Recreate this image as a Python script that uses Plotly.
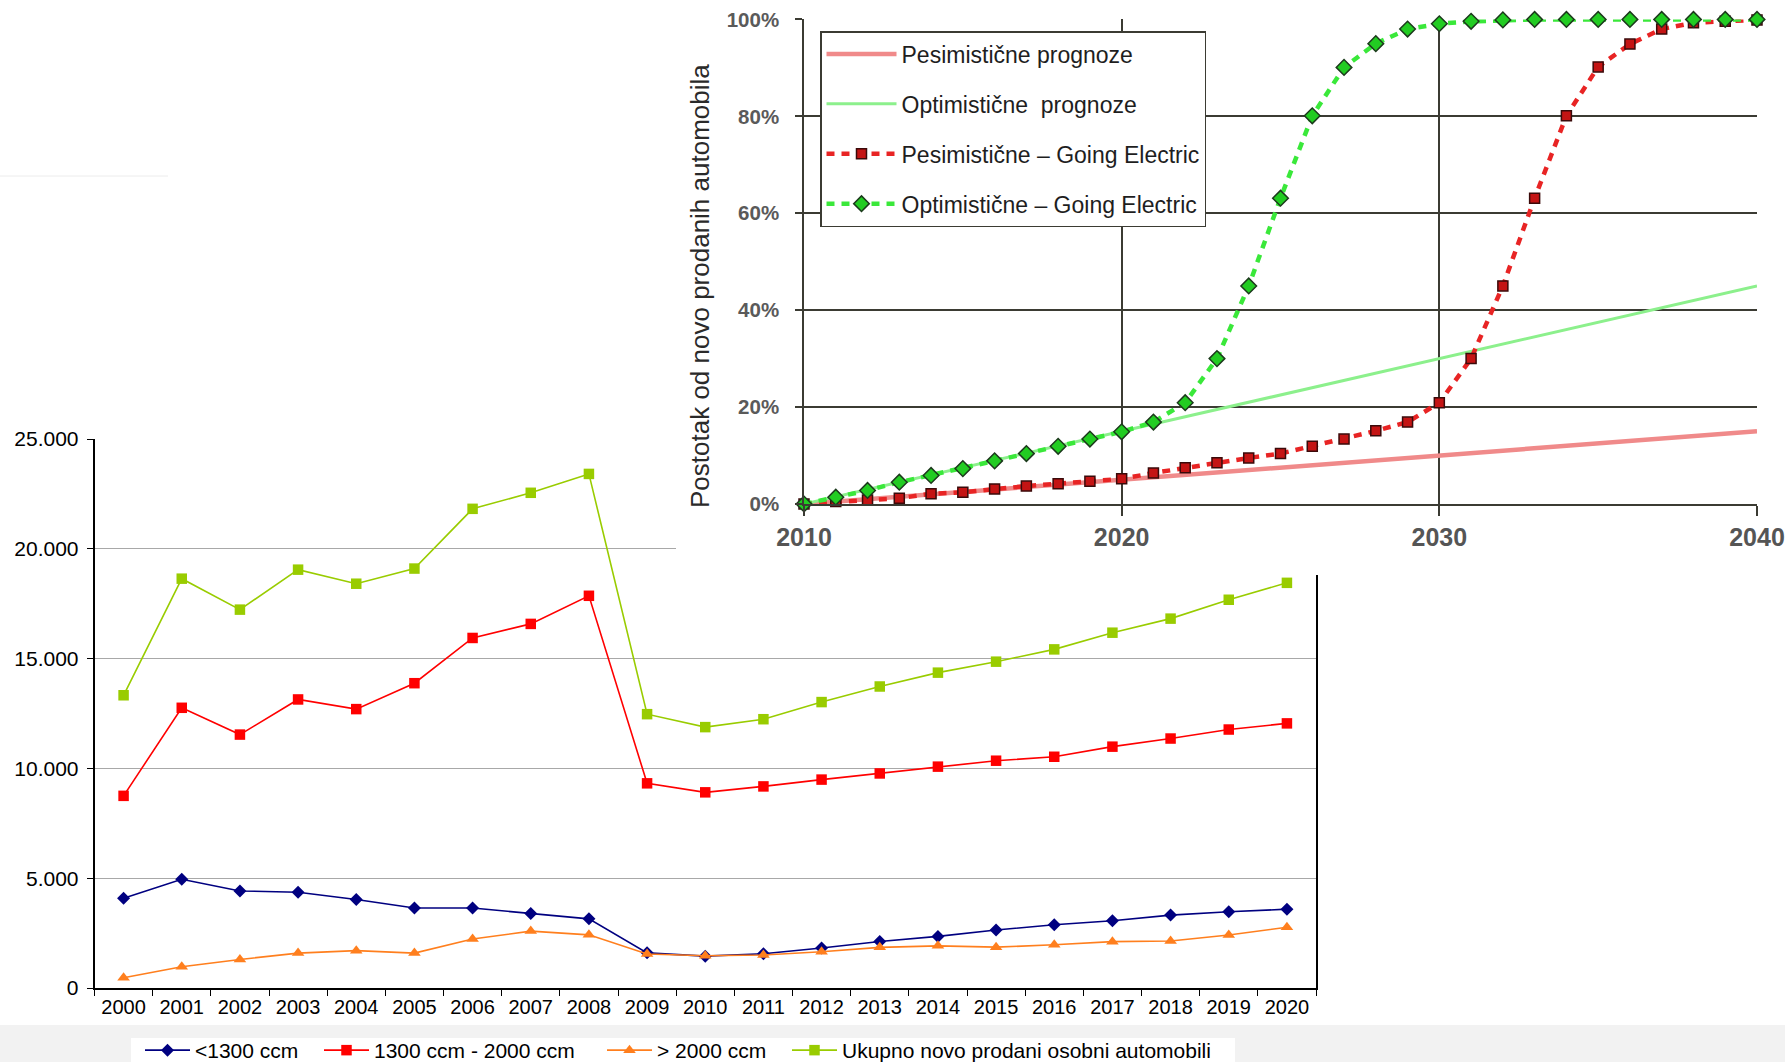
import plotly.graph_objects as go

# ---- Lower chart: new passenger cars sold per year, by engine size ----
years = ["2000", "2001", "2002", "2003", "2004", "2005", "2006", "2007", "2008", "2009", "2010",
         "2011", "2012", "2013", "2014", "2015", "2016", "2017", "2018", "2019", "2020"]
under_1300 = [4090, 4950, 4420, 4360, 4030, 3640, 3640, 3390, 3150, 1600, 1450,
              1560, 1820, 2120, 2350, 2640, 2880, 3060, 3320, 3470, 3590]
from_1300_to_2000 = [8750, 12760, 11540, 13140, 12700, 13880, 15940, 16580, 17860, 9320, 8910,
                     9180, 9490, 9770, 10080, 10350, 10530, 10990, 11360, 11770, 12050]
over_2000 = [470, 970, 1300, 1590, 1700, 1590, 2230, 2590, 2420, 1550, 1470,
             1500, 1650, 1850, 1920, 1860, 1970, 2110, 2140, 2410, 2770]
total_sold = [13330, 18640, 17230, 19050, 18410, 19100, 21820, 22550, 23410, 12470, 11880,
              12240, 13020, 13730, 14360, 14860, 15420, 16180, 16820, 17680, 18450]
lower_names = ["<1300 ccm", "1300 ccm - 2000 ccm", "> 2000 ccm",
               "Ukupno novo prodani osobni automobili"]
lower_ticks = [0, 5000, 10000, 15000, 20000, 25000]

# ---- Upper chart: share of electric cars in new car sales ----
forecast_years = [2010, 2020, 2030, 2040]
pessimistic_forecast = [0, 5, 10, 15]
optimistic_forecast = [0, 15, 30, 45]
ge_years = [2010, 2011, 2012, 2013, 2014, 2015, 2016, 2017, 2018, 2019, 2020,
            2021, 2022, 2023, 2024, 2025, 2026, 2027, 2028, 2029, 2030,
            2031, 2032, 2033, 2034, 2035, 2036, 2037, 2038, 2039, 2040]
pessimistic_ge = [0, 0.5, 0.8, 1.2, 2.1, 2.4, 3.1, 3.7, 4.2, 4.7, 5.2,
                  6.4, 7.5, 8.5, 9.5, 10.4, 11.9, 13.4, 15.1, 16.9, 20.9,
                  30.0, 45.0, 63.1, 80.1, 90.2, 94.9, 98.0, 99.3, 99.6, 99.9]
optimistic_ge = [0, 1.4, 2.8, 4.5, 5.9, 7.3, 8.9, 10.4, 11.9, 13.4, 14.9,
                 16.9, 20.9, 30.0, 45.0, 63.1, 80.1, 90.1, 95.0, 98.0, 99.1,
                 99.6, 99.9, 100, 100, 100, 100, 100, 100, 100, 100]
upper_names = ["Pesimistične prognoze", "Optimistične  prognoze",
               "Pesimistične – Going Electric", "Optimistične – Going Electric"]
upper_title = "Postotak od novo prodanih automobila"

FONT = "Liberation Sans, Arial, sans-serif"
GRID_DARK = "#3b3b33"
W, H = 1785, 1062

fig = go.Figure()

# lower chart series, each with its own legend entry along the bottom strip
lower_series = [
    (under_1300, "#000080", "diamond", 10, "legend", 140),
    (from_1300_to_2000, "#ff0000", "square", 10.5, "legend3", 319),
    (over_2000, "#ff7f1e", "triangle-up", 11, "legend4", 602),
    (total_sold, "#99cc00", "square", 10.5, "legend5", 787),
]
for name, (vals, col, sym, size, leg, _) in zip(lower_names, lower_series):
    fig.add_trace(go.Scatter(
        x=years, y=vals, name=name, mode="lines+markers",
        line=dict(color=col, width=1.6),
        marker=dict(color=col, symbol=sym, size=size, line=dict(width=0)),
        xaxis="x", yaxis="y", legend=leg, cliponaxis=False,
    ))

# blank panel that the upper chart sits on
fig.add_trace(go.Scatter(x=[], y=[], xaxis="x2", yaxis="y2", showlegend=False,
                         hoverinfo="skip"))

# upper chart series
fig.add_trace(go.Scatter(
    x=forecast_years, y=pessimistic_forecast, name=upper_names[0], mode="lines",
    line=dict(color="#f08a8a", width=4.5), xaxis="x3", yaxis="y3",
    legend="legend2", legendgroup="a",
))
fig.add_trace(go.Scatter(
    x=forecast_years, y=optimistic_forecast, name=upper_names[1], mode="lines",
    line=dict(color="#8cf08c", width=3), xaxis="x3", yaxis="y3",
    legend="legend2", legendgroup="b",
))
fig.add_trace(go.Scatter(
    x=ge_years, y=pessimistic_ge, name=upper_names[2], mode="lines+markers",
    line=dict(color="#e82424", width=4.5, dash="8px,7px"),
    marker=dict(symbol="square", size=10, color="#c41414",
                line=dict(color="#3a0a0a", width=1.5)),
    xaxis="x3", yaxis="y3", legend="legend2", legendgroup="c", cliponaxis=False,
))
fig.add_trace(go.Scatter(
    x=ge_years, y=optimistic_ge, name=upper_names[3], mode="lines+markers",
    line=dict(color="#3ae83a", width=4.5, dash="8px,7px"),
    marker=dict(symbol="diamond", size=12, color="#22cc22",
                line=dict(color="#1c3a1c", width=1.5)),
    xaxis="x3", yaxis="y3", legend="legend2", legendgroup="d", cliponaxis=False,
))

bottom_legend = dict(orientation="h", y=-9 / H, xanchor="left", yanchor="bottom",
                     bgcolor="rgba(0,0,0,0)", itemwidth=45,
                     font=dict(size=21, color="black"))
legends = {}
for _, col, _, _, leg, px in lower_series:
    legends[leg] = dict(bottom_legend, x=px / W)

fig.update_layout(
    width=W, height=H,
    margin=dict(l=0, r=0, t=0, b=0, autoexpand=False),
    paper_bgcolor="white", plot_bgcolor="white",
    separators=",.",
    showlegend=True,
    font=dict(family=FONT, color="black"),
    xaxis=dict(
        domain=[94.5 / W, 1316 / W], anchor="y", type="category",
        range=[-0.5, len(years) - 0.5],
        tickson="boundaries", ticks="outside", ticklen=6, tickcolor="black",
        showline=True, linecolor="black", linewidth=1.5, showgrid=False,
        tickangle=0, tickfont=dict(size=20, color="black"),
    ),
    yaxis=dict(
        domain=[1 - 988 / H, 1 - 439 / H], anchor="x", range=[0, 25000],
        tickvals=lower_ticks, tickformat=",d",
        showgrid=True, gridcolor="#a8a8a8", gridwidth=1,
        showline=True, linecolor="black", linewidth=1.5, mirror=True,
        ticks="outside", ticklen=6, tickcolor="black", zeroline=False,
        ticklabelstandoff=4, tickfont=dict(size=21, color="black"),
    ),
    xaxis2=dict(domain=[676 / W, 1.0], anchor="y2", range=[0, 1], visible=False),
    yaxis2=dict(domain=[1 - 575 / H, 1.0], anchor="x2", range=[0, 1], visible=False),
    xaxis3=dict(
        domain=[804 / W, 1757 / W], anchor="y3", range=[2010, 2040], dtick=10,
        showgrid=True, gridcolor=GRID_DARK, gridwidth=1.5,
        showline=True, linecolor=GRID_DARK, linewidth=1.5,
        ticks="outside", ticklen=10, tickcolor=GRID_DARK, tickwidth=1.5,
        zeroline=False, tickfont=dict(size=25, color="#555555", weight="bold"),
    ),
    yaxis3=dict(
        domain=[1 - 504 / H, 1 - 19.4 / H], anchor="x3", range=[0, 100], dtick=20,
        ticksuffix="%", showgrid=True, gridcolor=GRID_DARK, gridwidth=1.5,
        showline=True, linecolor=GRID_DARK, linewidth=1.5,
        ticks="outside", ticklen=7, tickcolor=GRID_DARK, tickwidth=1.5,
        ticklabelstandoff=12, zeroline=False,
        tickfont=dict(size=20.5, color="#5a5a5a", weight="bold"),
    ),
    legend=legends["legend"],
    legend3=legends["legend3"],
    legend4=legends["legend4"],
    legend5=legends["legend5"],
    legend2=dict(
        x=820 / W, y=1 - 31 / H, xanchor="left", yanchor="top",
        bgcolor="white", bordercolor=GRID_DARK, borderwidth=1.5,
        font=dict(size=23, color="#1e1e1e"), tracegroupgap=17, itemwidth=70,
    ),
    annotations=[dict(
        text=upper_title, textangle=-90, xref="paper", yref="paper",
        x=700 / W, y=1 - 286 / H, xanchor="center", yanchor="middle",
        showarrow=False, font=dict(size=26, color="#2a2a2a"),
    )],
    shapes=[
        dict(type="rect", xref="paper", yref="paper", x0=0, x1=1, y0=0, y1=1 - 1025 / H,
             fillcolor="#f2f2f2", line=dict(width=0), layer="below"),
        dict(type="rect", xref="paper", yref="paper", x0=131 / W, x1=1235 / W,
             y0=0, y1=1 - 1038 / H, fillcolor="white", line=dict(width=0), layer="below"),
        dict(type="line", xref="paper", yref="paper", x0=0, x1=168 / W,
             y0=1 - 176 / H, y1=1 - 176 / H,
             line=dict(color="#ececec", width=1), layer="below"),
    ],
)

fig.write_html("out.html")
